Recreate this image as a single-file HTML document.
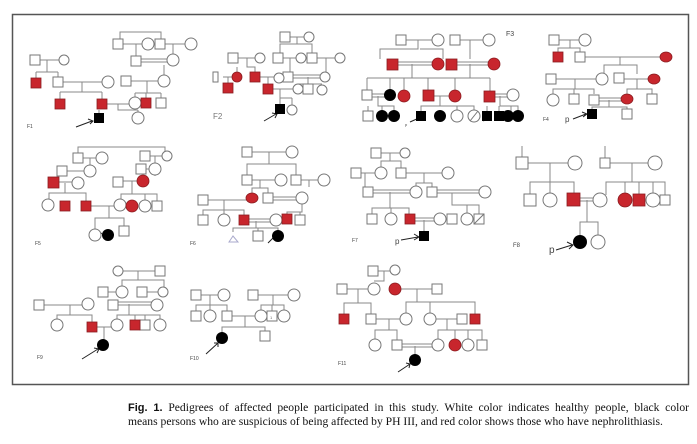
<!DOCTYPE html>
<html><head><meta charset="utf-8"><style>
html,body{margin:0;padding:0;background:#fff;width:697px;height:444px;overflow:hidden}
svg{position:absolute;left:0;top:0}
.cap{position:absolute;left:128px;top:401px;width:561px;font-family:"Liberation Serif",serif;font-size:11.6px;line-height:14px;color:#111}
.l1{text-align:justify;text-align-last:justify;white-space:nowrap}
</style></head><body>
<svg width="697" height="444" viewBox="0 0 697 444">
<rect x="12.5" y="14.5" width="676" height="370" fill="#fff" stroke="#555" stroke-width="1.5"/>
<g stroke="#888" stroke-width="1" fill="none">
<!-- F1 lines -->
<path d="M40 60H59M47 60V72M36 72H58M36 72V78M58 72V77M63 82H103M82 82V92M60 92H102M60 92V99M102 92V99"/>
<path d="M120 44V32H161V39M123 44H143M136 44V56M165 44H186M173 44V55M141 59H168M141 62H168M164 65V76M131 81H159M147 81V93M135 93H161M135 93V98M146 93V98M161 93V98M107 104H130M118 104V110H138M99 110V113M138 110V113"/>
<!-- F2 -->
<path d="M238 58H255M247 58V67H255V72M237 67V72M223 77H232M228 77V83M260 77H274M268 77V84M273 89H293M280 89V98M280 98H292M280 98V104M292 98V105M290 37H304M297 37V44H280V53M297 44H312V53M283 58H296M290 58V72M317 58H335M326 58V72M293 75H320M293 78H320M308 77V84M298 84H322M298 84V84"/>
<!-- F3 -->
<path d="M406 40H433M418 40V49H380V59M420 49H443V59M460 40H484M470 40V59M397 62H433M397 65H433M456 62H489M456 65H489M412 64V78M470 64V78M367 78H490M367 78V90M390 78V90M404 78V91M428 78V90M455 78V91M490 78V91M372 94H385M372 97H385M378 96V106H394V111M368 106V111M382 106V111M433 96H450M440 96V106H421V111M440 106H474V111M457 106V111M494 94H508M494 97H508M500 96V106H518V111M487 106V111M499 106V111M511 106V111"/>
<!-- F4 -->
<path d="M559 40H580M570 40V48H558V52M570 48H580V52M585 57H661M620 57V65H604V74M620 65H637V74M556 79H597M575 79V89H553V94M575 89H594V94M574 89V94M624 79H649M637 79V89H627V94M637 89H652V94M599 98H622M599 101H622M609 100V107H592V109M609 107H627V109"/>
<path d="M486 120L483 121M473 118L480 117"/>
<!-- F5 -->
<path d="M78 153V147H165V152M83 158H97M90 158V171M67 171H85M59 182H73M65 183V193H49V200M65 193H86V201M91 206H115M109 206V218H95V230M109 218H124V226M98 230L95 230M150 156H162M155 156V164M146 169H150M155 169V176M123 181H138M132 181V194H121V201M132 194H157V201M145 194V201"/>
<!-- F6 -->
<path d="M252 152H287M269 152V164H247V175M269 164H296V175M252 180H276M260 180V188H252V193M260 188H268V193M301 180H319M309 180V187M273 197H297M273 200H297M208 200H247M224 200V210H203V215M224 210H244V215M224 210V215M249 219H271M249 222H271M256 221V228H233V232M256 228H278V231M258 228V231M302 203V212H287V214M302 212H300V215"/>
<!-- F7 -->
<path d="M381 153H400M390 153V161H381V168M390 161H401V168M361 173H376M365 173V187M406 173H443M424 173V183H416V187M424 183H432V187M373 190H411M373 193H411M390 192V208H372V214M390 208H409V214M391 208V214M437 190H480M437 193H480M452 193V205H479V214M467 205V214M415 218H435M415 221H435M424 220V231"/>
<path d="M401 240L418 237M414 234L419 237L414 240" stroke="#222"/>
<!-- F8 -->
<path d="M522 146V158M605 146V158M527 163H570M550 163V182H530V195M550 182H574V195M550 182V195M579 198H595M579 201H595M587 200V222H580V237M587 222H598V237M610 163H650M632 163V182H606V195M632 182H665V195M625 182V195M639 182V195M653 182V195"/>
<path d="M556 250L572 245M567 242L573 245L569 249" stroke="#222"/>
<!-- F9 -->
<path d="M123 271H155M138 271V280H122V287M138 280H164V287M108 292H117M147 292H158M118 305H152M118 302H152M129 304V315H117V320M129 315H160V320M135 315V320M145 315V320M44 305H83M70 305V315H57V320M70 315H92V322M97 327H112M104 327V340"/>
<!-- F10 -->
<path d="M201 295H219M210 295V305H196V311M210 305H227V311M210 305V311M258 295H289M273 295V305H261V311M273 305H284V311M272 305V311M232 316H256M245 316V327H222V333M245 327H265V331"/>
<!-- F11 -->
<path d="M378 271H390M384 271V281H374M347 289H369M358 289V303H344V314M358 303H371V314M400 289H432M417 289V302H406V314M417 302H475V314M430 302V314M376 319H401M389 319V330H375V340M389 330H397V340M402 344H433M402 347H433M415 346V355M435 319H457M447 319V330H438V340M447 330H482V340M455 330V340M468 330V340"/>
</g>
<g stroke="#222" stroke-width="1" fill="none">
<path d="M76 127L92 121M88 119L93 121L90 124M264 121L276 114M272 113L277 114L275 118M410 122L419 118M573 119L586 114M582 112L587 114L583 117M95 239L102 233M268 243L274 237M82 359L98 349M94 348L99 349L97 353M206 354L218 343M214 343L218 343L218 347M398 372L410 364M406 363L410 364L409 368"/>
</g>
<g stroke="#777" stroke-width="1" fill="#fff">
<!-- white squares -->
<rect x="30" y="55" width="10" height="10"/><rect x="53" y="77" width="10" height="10"/><rect x="113" y="39" width="10" height="10"/><rect x="155" y="39" width="10" height="10"/><rect x="131" y="56" width="10" height="10"/><rect x="121" y="76" width="10" height="10"/><rect x="156" y="98" width="10" height="10"/>
<rect x="228" y="53" width="10" height="10"/><rect x="280" y="32" width="10" height="10"/><rect x="273" y="53" width="10" height="10"/><rect x="307" y="53" width="10" height="10"/><rect x="283" y="72" width="10" height="10"/><rect x="303" y="84" width="10" height="10"/><rect x="213" y="72" width="5" height="10"/>
<rect x="396" y="35" width="10" height="10"/><rect x="450" y="35" width="10" height="10"/><rect x="362" y="90" width="10" height="10"/><rect x="363" y="111" width="10" height="10"/>
<rect x="549" y="35" width="10" height="10"/><rect x="575" y="52" width="10" height="10"/><rect x="546" y="74" width="10" height="10"/><rect x="614" y="73" width="10" height="10"/><rect x="569" y="94" width="10" height="10"/><rect x="589" y="95" width="10" height="10"/><rect x="647" y="94" width="10" height="10"/><rect x="622" y="109" width="10" height="10"/>
<rect x="73" y="153" width="10" height="10"/><rect x="57" y="166" width="10" height="10"/><rect x="140" y="151" width="10" height="10"/><rect x="136" y="164" width="10" height="10"/><rect x="113" y="177" width="10" height="10"/><rect x="152" y="201" width="10" height="10"/><rect x="119" y="226" width="10" height="10"/>
<rect x="242" y="147" width="10" height="10"/><rect x="242" y="175" width="10" height="10"/><rect x="291" y="175" width="10" height="10"/><rect x="263" y="193" width="10" height="10"/><rect x="198" y="195" width="10" height="10"/><rect x="198" y="215" width="10" height="10"/><rect x="295" y="215" width="10" height="10"/><rect x="253" y="231" width="10" height="10"/>
<rect x="371" y="148" width="10" height="10"/><rect x="351" y="168" width="10" height="10"/><rect x="396" y="168" width="10" height="10"/><rect x="363" y="187" width="10" height="10"/><rect x="427" y="187" width="10" height="10"/><rect x="367" y="214" width="10" height="10"/><rect x="447" y="214" width="10" height="10"/><rect x="474" y="214" width="10" height="10"/>
<rect x="516" y="157" width="12" height="12"/><rect x="600" y="158" width="10" height="10"/><rect x="524" y="194" width="12" height="12"/><rect x="660" y="195" width="10" height="10"/>
<rect x="155" y="266" width="10" height="10"/><rect x="98" y="287" width="10" height="10"/><rect x="137" y="287" width="10" height="10"/><rect x="108" y="300" width="10" height="10"/><rect x="140" y="320" width="10" height="10"/><rect x="34" y="300" width="10" height="10"/>
<rect x="191" y="290" width="10" height="10"/><rect x="191" y="311" width="10" height="10"/><rect x="222" y="311" width="10" height="10"/><rect x="248" y="290" width="10" height="10"/><rect x="267" y="311" width="10" height="10"/><rect x="260" y="331" width="10" height="10"/>
<rect x="368" y="266" width="10" height="10"/><rect x="337" y="284" width="10" height="10"/><rect x="432" y="284" width="10" height="10"/><rect x="366" y="314" width="10" height="10"/><rect x="392" y="340" width="10" height="10"/><rect x="457" y="314" width="10" height="10"/><rect x="477" y="340" width="10" height="10"/>
<!-- white circles -->
<circle cx="64" cy="60" r="5"/><circle cx="108" cy="82" r="6"/><circle cx="148" cy="44" r="6"/><circle cx="191" cy="44" r="6"/><circle cx="173" cy="60" r="6"/><circle cx="164" cy="81" r="6"/><circle cx="135" cy="103" r="6"/><circle cx="138" cy="118" r="6"/>
<circle cx="260" cy="58" r="5"/><circle cx="279" cy="78" r="5"/><circle cx="309" cy="37" r="5"/><circle cx="301" cy="58" r="5"/><circle cx="340" cy="58" r="5"/><circle cx="325" cy="77" r="5"/><circle cx="298" cy="89" r="5"/><circle cx="322" cy="90" r="5"/><circle cx="292" cy="110" r="5"/>
<circle cx="438" cy="40" r="6"/><circle cx="489" cy="40" r="6"/><circle cx="513" cy="95" r="6"/><circle cx="457" cy="116" r="6"/><circle cx="474" cy="116" r="6"/>
<circle cx="585" cy="40" r="6"/><circle cx="602" cy="79" r="6"/><circle cx="553" cy="100" r="6"/>
<circle cx="102" cy="158" r="6"/><circle cx="90" cy="171" r="6"/><circle cx="78" cy="183" r="6"/><circle cx="48" cy="205" r="6"/><circle cx="120" cy="205" r="6"/><circle cx="95" cy="235" r="6"/><circle cx="167" cy="156" r="5"/><circle cx="155" cy="169" r="6"/><circle cx="145" cy="206" r="6"/>
<circle cx="292" cy="152" r="6"/><circle cx="281" cy="180" r="6"/><circle cx="324" cy="180" r="6"/><circle cx="302" cy="198" r="6"/><circle cx="224" cy="220" r="6"/><circle cx="276" cy="220" r="6"/>
<circle cx="405" cy="153" r="5"/><circle cx="381" cy="173" r="6"/><circle cx="448" cy="173" r="6"/><circle cx="416" cy="192" r="6"/><circle cx="485" cy="192" r="6"/><circle cx="391" cy="219" r="6"/><circle cx="440" cy="219" r="6"/><circle cx="467" cy="219" r="6"/>
<circle cx="575" cy="163" r="7"/><circle cx="655" cy="163" r="7"/><circle cx="550" cy="200" r="7"/><circle cx="600" cy="200" r="7"/><circle cx="606" cy="200" r="0"/><circle cx="653" cy="200" r="7"/><circle cx="598" cy="242" r="7"/>
<circle cx="118" cy="271" r="5"/><circle cx="122" cy="292" r="6"/><circle cx="163" cy="292" r="5"/><circle cx="157" cy="305" r="6"/><circle cx="117" cy="325" r="6"/><circle cx="160" cy="325" r="6"/><circle cx="88" cy="304" r="6"/><circle cx="57" cy="325" r="6"/>
<circle cx="224" cy="295" r="6"/><circle cx="210" cy="316" r="6"/><circle cx="294" cy="295" r="6"/><circle cx="261" cy="316" r="6"/><circle cx="284" cy="316" r="6"/>
<circle cx="395" cy="270" r="5"/><circle cx="374" cy="289" r="6"/><circle cx="406" cy="319" r="6"/><circle cx="430" cy="319" r="6"/><circle cx="375" cy="345" r="6"/><circle cx="438" cy="345" r="6"/><circle cx="468" cy="345" r="6"/>
</g>
<path d="M229 242L233 236L238 242Z" fill="#fff" stroke="#aac"/>
<rect x="474" y="214" width="10" height="10" fill="#fff" stroke="#777"/><path d="M474 224L484 214M470 121L478 111" stroke="#777"/>
<text x="270" y="319" font-family="Liberation Sans,sans-serif" font-size="4" fill="#666">1</text>
<g fill="#c8262d" stroke="#8a1c20" stroke-width="0.8">
<rect x="31" y="78" width="10" height="10"/><rect x="55" y="99" width="10" height="10"/><rect x="97" y="99" width="10" height="10"/><rect x="141" y="98" width="10" height="10"/>
<circle cx="237" cy="77" r="5"/><rect x="250" y="72" width="10" height="10"/><rect x="223" y="83" width="10" height="10"/><rect x="263" y="84" width="10" height="10"/>
<rect x="387" y="59" width="11" height="11"/><circle cx="438" cy="64" r="6"/><rect x="446" y="59" width="11" height="11"/><circle cx="494" cy="64" r="6"/><circle cx="404" cy="96" r="6"/><rect x="423" y="90" width="11" height="11"/><circle cx="455" cy="96" r="6"/><rect x="484" y="91" width="11" height="11"/>
<rect x="553" y="52" width="10" height="10"/><ellipse cx="666" cy="57" rx="6" ry="5"/><ellipse cx="654" cy="79" rx="6" ry="5"/><ellipse cx="627" cy="99" rx="6" ry="5"/>
<rect x="48" y="177" width="11" height="11"/><rect x="60" y="201" width="10" height="10"/><rect x="81" y="201" width="10" height="10"/><circle cx="143" cy="181" r="6"/><circle cx="132" cy="206" r="6"/>
<ellipse cx="252" cy="198" rx="6" ry="5"/><rect x="239" y="215" width="10" height="10"/><rect x="282" y="214" width="10" height="10"/>
<rect x="405" y="214" width="10" height="10"/>
<rect x="567" y="193" width="13" height="13"/><circle cx="625" cy="200" r="7"/><rect x="633" y="194" width="12" height="12"/>
<rect x="87" y="322" width="10" height="10"/><rect x="130" y="320" width="10" height="10"/>
<circle cx="395" cy="289" r="6"/><rect x="339" y="314" width="10" height="10"/><rect x="470" y="314" width="10" height="10"/><circle cx="455" cy="345" r="6"/>
</g>
<g fill="#000">
<rect x="94" y="113" width="10" height="10"/><rect x="275" y="104" width="10" height="10"/>
<circle cx="390" cy="95" r="6"/><circle cx="382" cy="116" r="6"/><circle cx="394" cy="116" r="6"/><rect x="416" y="111" width="10" height="10"/><circle cx="440" cy="116" r="6"/><rect x="482" y="111" width="10" height="10"/><rect x="494" y="111" width="10" height="10"/><circle cx="508" cy="116" r="6"/><circle cx="518" cy="116" r="6"/>
<rect x="587" y="109" width="10" height="10"/>
<circle cx="108" cy="235" r="6"/><circle cx="278" cy="236" r="6"/><rect x="419" y="231" width="10" height="10"/><circle cx="580" cy="242" r="7"/>
<circle cx="103" cy="345" r="6"/><circle cx="222" cy="338" r="6"/><circle cx="415" cy="360" r="6"/>
</g>
<g font-family="Liberation Sans,sans-serif" fill="#444">
<text x="27" y="128" font-size="5">F1</text><text x="213" y="119" font-size="8" fill="#777">F2</text><text x="506" y="36" font-size="7">F3</text><text x="543" y="121" font-size="5">F4</text><text x="565" y="122" font-size="8">p</text>
<text x="35" y="245" font-size="5">F5</text><text x="190" y="245" font-size="5">F6</text><text x="352" y="242" font-size="5">F7</text><text x="395" y="244" font-size="8">p</text><text x="513" y="247" font-size="6">F8</text><text x="549" y="253" font-size="10">p</text>
<text x="37" y="359" font-size="5">F9</text><text x="190" y="360" font-size="5">F10</text><text x="338" y="365" font-size="5">F11</text>
<text x="405" y="126" font-size="4">p</text>
</g>
</svg>
<div class="cap"><div class="l1"><b style="font-family:'Liberation Sans',sans-serif;font-size:11px">Fig. 1.</b> Pedigrees of affected people participated in this study. White color indicates healthy people, black color</div><div>means persons who are suspicious of being affected by PH III, and red color shows those who have nephrolithiasis.</div></div>
</body></html>
